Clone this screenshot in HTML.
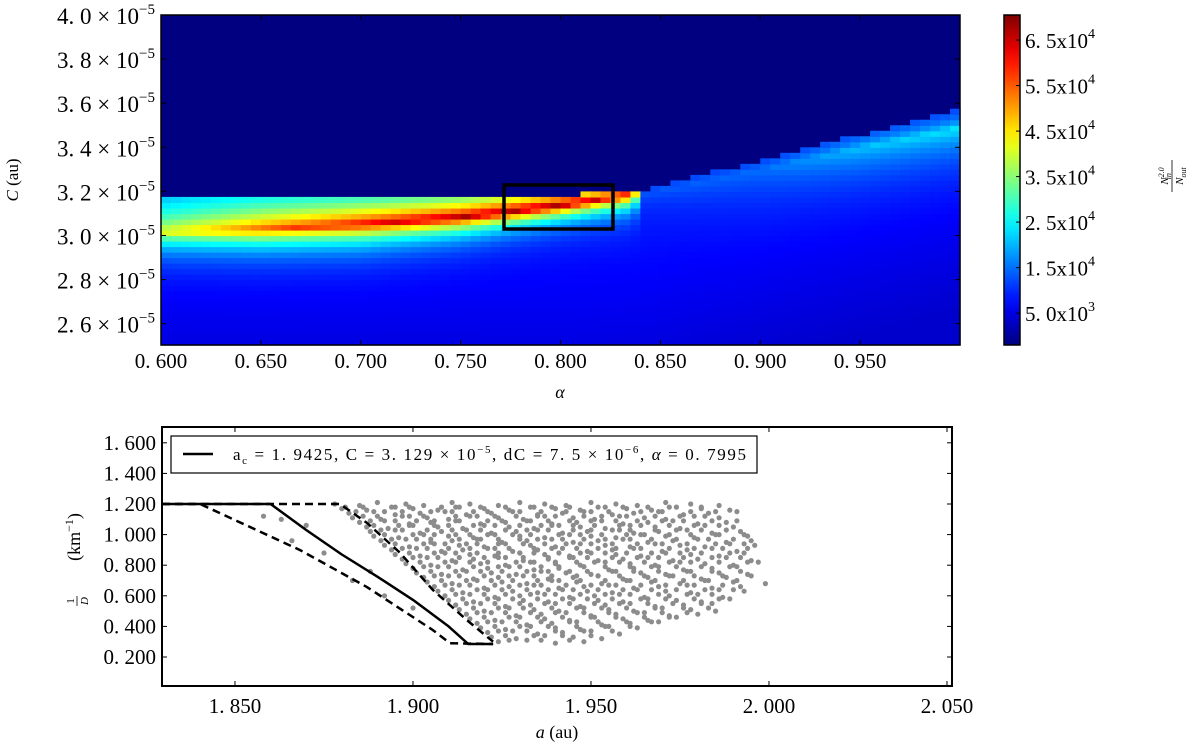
<!DOCTYPE html>
<html><head><meta charset="utf-8"><style>
html,body{margin:0;padding:0;background:#fff;}
svg{display:block;font-family:"Liberation Serif","DejaVu Serif",serif;}
</style></head><body>
<svg id="fig" width="1200" height="744" viewBox="0 0 1200 744" xmlns="http://www.w3.org/2000/svg">
<defs><linearGradient id="jetgrad" x1="0" y1="1" x2="0" y2="0"></linearGradient></defs>
<g id="heat"></g>
<g id="topaxes"></g>
<g id="cbar"></g>
<g id="bottom"></g>
</svg>
<script>
// ---------- heatmap data ----------
const sampleAlpha = [0.600,0.650,0.700,0.750,0.800,0.835,0.842,0.900,0.950,1.000];
const topC        = [3.184,3.184,3.184,3.184,3.184,3.200,3.205,3.342,3.456,3.569];
const ridgeC      = [3.016,3.030,3.052,3.084,3.138,3.186,3.190,3.300,3.400,3.490];
const peakVal     = [42000,55000,63000,68000,69000,62000,13000,15000,21000,24000];
const upWidth     = [0.15,0.14,0.12,0.10,0.08,0.06,0.05,0.05,0.05,0.05];
const downWidth   = [0.07,0.07,0.07,0.06,0.05,0.05,0.05,0.12,0.12,0.12];
const cbarTicks   = [65000,55000,45000,35000,25000,15000,5000];
const cbarLabels  = ["6. 5x10","5. 5x10","4. 5x10","3. 5x10","2. 5x10","1. 5x10","5. 0x10"];
const cbarExps    = ["4","4","4","4","4","4","3"];
const topXTicks   = [0.600,0.650,0.700,0.750,0.800,0.850,0.900,0.950];
const topXLabels  = ["0. 600","0. 650","0. 700","0. 750","0. 800","0. 850","0. 900","0. 950"];
const topYTicks   = [4.0,3.8,3.6,3.4,3.2,3.0,2.8,2.6];
const topYLabels  = ["4. 0","3. 8","3. 6","3. 4","3. 2","3. 0","2. 8","2. 6"];
// ---------- bottom plot data ----------
const botXTicks   = [1.850,1.900,1.950,2.000,2.050];
const botXLabels  = ["1. 850","1. 900","1. 950","2. 000","2. 050"];
const botYTicks   = [1.6,1.4,1.2,1.0,0.8,0.6,0.4,0.2];
const botYLabels  = ["1. 600","1. 400","1. 200","1. 000","0. 800","0. 600","0. 400","0. 200"];
const solidA  = [1.8295,1.8600,1.870,1.880,1.890,1.900,1.910,1.9155,1.9225];
const solidD  = [1.200,1.200,1.030,0.870,0.725,0.573,0.400,0.285,0.285];
const dashLoA = [1.8295,1.8402,1.8683,1.887,1.9056,1.9104,1.9225];
const dashLoD = [1.200,1.200,0.899,0.658,0.376,0.290,0.285];
const dashHiA = [1.8295,1.8795,1.8871,1.8964,1.9056,1.9152,1.9225];
const dashHiD = [1.200,1.200,1.076,0.880,0.638,0.440,0.300];
// scatter points batch 1: [a offset in thousandths from 1.8, 1/D in hundredths]
const scatterPts = [
[78,120],[85,119],[90,121],[98,120],[103,119],[111,121],[116,120],[124,119],[130,121],[137,120],[143,119],[150,121],[157,120],[163,119],[171,121],[178,120],[186,119],
[80,117],[87,116],[94,118],[100,117],[107,116],[113,118],[120,117],[127,116],[134,118],[140,117],[147,116],[154,118],[160,117],[167,116],[174,118],[181,117],[189,116],
[82,114],[89,115],[95,113],[102,114],[109,115],[115,113],[122,114],[128,115],[135,113],[142,114],[148,115],[156,113],[162,114],[169,115],[176,113],[183,114],[191,115],
[83,111],[91,110],[97,112],[104,111],[110,110],[118,112],[124,111],[131,110],[137,112],[145,111],[151,110],[158,112],[165,111],[171,110],[179,112],[186,111],
[85,108],[92,109],[99,107],[105,108],[112,109],[119,107],[126,108],[132,109],[139,107],[146,108],[153,109],[159,107],[166,108],[173,109],[180,107],[188,108],
[87,105],[93,104],[100,106],[107,105],[114,104],[120,106],[127,105],[134,104],[141,106],[147,105],[154,104],[161,106],[168,105],[175,104],[182,106],[190,105],
[88,102],[95,103],[102,101],[108,102],[115,103],[122,101],[129,102],[135,103],[142,101],[149,102],[156,103],[162,101],[169,102],[177,103],[184,101],[192,102],
[89,99],[96,98],[103,100],[110,99],[117,98],[123,100],[130,99],[137,98],[144,100],[150,99],[157,98],[164,100],[171,99],[179,98],[186,100],[194,99],
[91,96],[98,97],[105,95],[111,96],[118,97],[125,95],[132,96],[139,97],[145,95],[152,96],[159,97],[166,95],[173,96],[180,97],[188,95],[195,96],
[92,93],[99,92],[106,94],[113,93],[120,92],[126,94],[133,93],[140,92],[147,94],[154,93],[161,92],[168,94],[175,93],[182,92],[189,94],[196,93],
[94,90],[101,91],[108,89],[114,90],[121,91],[128,89],[135,90],[142,91],[149,89],[156,90],[162,91],[170,89],[177,90],[184,91],[191,89],
[95,87],[102,86],[109,88],[116,87],[123,86],[130,88],[137,87],[144,86],[150,88],[157,87],[164,86],[171,88],[178,87],[186,86],[193,88],
[97,84],[104,85],[111,83],[117,84],[124,85],[131,83],[138,84],[145,85],[152,83],[159,84],[166,85],[173,83],[180,84],[188,85],[195,83],
[98,81],[105,80],[112,82],[119,81],[126,80],[133,82],[140,81],[147,80],[154,82],[161,81],[168,80],[175,82],[182,81],[190,80],[197,82],
[100,78],[107,79],[114,77],[121,78],[127,79],[134,77],[141,78],[148,79],[155,77],[162,78],[169,79],[176,77],[184,78],[191,79],
[101,75],[108,74],[115,76],[122,75],[129,74],[136,76],[143,75],[150,74],[157,76],[164,75],[171,74],[178,76],[186,75],[194,74],
[103,72],[110,73],[117,71],[124,72],[131,73],[138,71],[145,72],[152,73],[159,71],[166,72],[173,73],[181,71],[188,72],[195,73],
[104,69],[111,68],[118,70],[125,69],[132,68],[139,70],[146,69],[153,68],[160,70],[167,69],[175,68],[182,70],[190,69],
[106,66],[113,67],[120,65],[127,66],[134,67],[141,65],[148,66],[155,67],[162,65],[169,66],[177,67],[184,65],[192,66],
[107,63],[114,62],[121,64],[128,63],[135,62],[142,64],[149,63],[156,62],[163,64],[171,63],[178,62],[186,64],[193,63],
[109,60],[116,61],[123,59],[130,60],[137,61],[144,59],[151,60],[158,61],[165,59],[172,60],[180,61],[187,59],
[110,57],[117,56],[124,58],[131,57],[138,56],[145,58],[152,57],[159,56],[166,58],[174,57],[181,56],[189,58],
[112,54],[119,55],[126,53],[133,54],[140,55],[147,53],[154,54],[161,55],[168,53],[176,54],[184,55],
[113,51],[120,50],[127,52],[134,51],[141,50],[148,52],[155,51],[162,50],[170,52],[178,51],[185,50],
[115,48],[122,49],[129,47],[136,48],[143,49],[150,47],[157,48],[165,49],[172,47],[180,48],
[116,45],[123,44],[130,46],[137,45],[144,44],[151,46],[159,45],[166,44],[174,46],
[118,42],[125,43],[132,41],[139,42],[146,43],[153,41],[161,42],[169,43],
[119,39],[126,38],[133,40],[140,39],[147,38],[155,40],[163,39],
[121,36],[128,37],[135,35],[142,36],[150,37],[158,35],
[122,33],[129,32],[137,34],[145,33],[153,32],
[124,30],[132,31],[140,29],[148,30],
[70,106],[63,110],[66,96],[58,112],[75,88],[88,76],[92,60],[100,52],[83,70],[199,68]
];
// scatter points batch 2: one 1/D value (hundredths) per row, with a offsets (thousandths from 1.8)
const scatterRowD = [118,115,112,109,106,103,100,97,94,91,88,85,82,79,76,73,70,67,64,61,58,55,52,49,46,43,40,37,34,31];
const scatterRowA = [
[81,86,95,99,108,112,119,126,133,139,144,152,159,166,172,181],
[84,92,97,105,111,117,121,130,136,143,150,155,164,170,178,185],
[86,90,99,103,112,116,123,129,135,140,148,153,160,168,175,182],
[88,95,101,106,113,121,125,133,138,144,150,157,163,170,176,184,191],
[89,96,99,106,110,117,123,130,136,139,145,151,158,164,172,179,186],
[91,97,104,111,115,119,126,132,138,145,150,158,161,168,174,181,188],
[92,100,106,112,116,121,128,133,141,147,153,160,165,172,178,185,193],
[94,101,105,113,119,124,130,135,142,148,154,161,167,174,183,190],
[95,103,109,115,118,124,131,137,143,150,156,163,170,177,185,193],
[97,104,110,116,123,127,134,139,146,152,157,164,172,179,187,194],
[99,106,112,118,124,130,134,141,147,154,160,167,175,181,189],
[100,107,113,120,126,131,138,144,149,156,163,169,176,184,192],
[102,109,116,121,129,134,140,146,151,158,165,172,178,186,194],
[103,110,117,124,130,136,141,148,154,161,167,174,181,189],
[105,112,119,125,132,138,144,149,156,162,169,177,184,192],
[106,113,120,127,134,139,146,152,158,165,172,179,187],
[108,115,122,128,135,141,147,154,161,168,176,183,191],
[109,116,123,130,136,143,150,157,164,171,179,187],
[111,118,125,132,138,145,152,159,167,174,182,190],
[112,120,126,133,140,147,154,161,169,177,184],
[114,121,128,135,142,149,156,164,171,179,186],
[115,123,130,137,144,151,158,166,173,181],
[117,124,131,139,146,153,160,168,176,183],
[118,126,133,140,148,155,163,170,177],
[120,127,135,142,150,157,165,172],
[121,129,136,144,152,160,167],
[123,130,138,146,154,161],
[124,132,140,148,156],
[126,134,142,150],
[127,136,144]
];

const NS="http://www.w3.org/2000/svg";
function mk(tag,attrs,parent){const e=document.createElementNS(NS,tag);for(const k in attrs)e.setAttribute(k,attrs[k]);parent.appendChild(e);return e;}

// ---------- top axes scales ----------
const TX0=161,TX1=960,TY0=15,TY1=345;
const ax=a=>TX0+(a-0.6)*(TX1-TX0)/0.4;
const cy=c=>TY0+(4.0-c)*220.5;
const VMIN=-2000,VMAX=70500;
function jet(v){let t=(v-VMIN)/(VMAX-VMIN);t=Math.max(0,Math.min(1,t));
 const cl=x=>Math.max(0,Math.min(1,x));
 const r=cl(1.5-Math.abs(4*t-3)),g=cl(1.5-Math.abs(4*t-2)),b=cl(1.5-Math.abs(4*t-1));
 return `rgb(${Math.round(r*255)},${Math.round(g*255)},${Math.round(b*255)})`;}
function interp(xs,ys,x){if(x<=xs[0])return ys[0];for(let i=1;i<xs.length;i++){if(x<=xs[i]){const f=(x-xs[i-1])/(xs[i]-xs[i-1]);return ys[i-1]+f*(ys[i]-ys[i-1]);}}return ys[ys.length-1];}

const heat=document.getElementById('heat');
mk('rect',{x:TX0,y:TY0,width:TX1-TX0,height:TY1-TY0,fill:jet(VMIN)},heat);
const dA=0.005,dC=0.025;
for(let a=0.6;a<1.0-1e-9;a+=dA){
 const am=a+dA/2;
 const T=interp(sampleAlpha,topC,am),R=interp(sampleAlpha,ridgeC,am),P=interp(sampleAlpha,peakVal,am);
 const wu=interp(sampleAlpha,upWidth,am),wd=interp(sampleAlpha,downWidth,am);
 for(let c=2.5;c<4.0;c+=dC){
  const cm=c+dC/2; if(cm>T)continue;
  const d=R-cm;
  const f=d<0?Math.exp(d/wu):Math.exp(-d/wd);
  const base=9500-6000*Math.min(1,(T-cm)/0.9);
  const v=base+(P-base)*f;
  const x0=ax(a),x1=ax(a+dA),y0=cy(c+dC),y1=cy(c);
  const yy0=Math.max(TY0,y0),yy1=Math.min(TY1,y1); if(yy1<=yy0)continue;
  const r=mk('rect',{x:x0.toFixed(2),y:yy0.toFixed(2),width:(x1-x0+0.6).toFixed(2),height:(yy1-yy0+0.6).toFixed(2),fill:jet(v)},heat);
  
  
 }
}
const tA=document.getElementById('topaxes');
const bx=mk('rect',{x:504,y:185,width:109,height:44,fill:'none',stroke:'#000','stroke-width':3.5},tA);


const frame=mk('rect',{x:TX0,y:TY0,width:TX1-TX0,height:TY1-TY0,fill:'none',stroke:'#000','stroke-width':1.5},tA);


topXTicks.forEach((t,i)=>{const x=ax(t);
 mk('line',{x1:x,x2:x,y1:TY1,y2:TY1-5,stroke:'#000'},tA);mk('line',{x1:x,x2:x,y1:TY0,y2:TY0+5,stroke:'#000'},tA);
 const tx=mk('text',{x:x,y:368,'text-anchor':'middle','font-size':21},tA);tx.textContent=topXLabels[i];
 
 });
topYTicks.forEach((t,i)=>{const y=cy(t);
 mk('line',{x1:TX0,x2:TX0+5,y1:y,y2:y,stroke:'#000'},tA);mk('line',{x1:TX1,x2:TX1-5,y1:y,y2:y,stroke:'#000'},tA);
 const tx=mk('text',{x:155,y:y+9,'font-size':23,'text-anchor':'end'},tA);
 
 
 const s1=mk('tspan',{},tx);s1.textContent=topYLabels[i]+" × 10";
 const s2=mk('tspan',{dy:-10,'font-size':15},tx);s2.textContent="−5";});
const yt=mk('text',{x:0,y:0,'font-size':17,'text-anchor':'middle',transform:'translate(18,180) rotate(-90)'},tA);


{const s=mk('tspan',{'font-style':'italic'},yt);s.textContent="C";const s2=mk('tspan',{},yt);s2.textContent=" (au)";}
const xt=mk('text',{x:560,y:398,'font-size':18,'font-style':'italic','text-anchor':'middle'},tA);xt.textContent="α";



// ---------- colorbar ----------
const cb=document.getElementById('cbar');
const grad=document.getElementById('jetgrad');
for(let k=0;k<=20;k++){const v=VMIN+(VMAX-VMIN)*k/20;mk('stop',{offset:(k/20),'stop-color':jet(v)},grad);}
const CBX=1004,CBW=16;
const cby=v=>TY1-(v-VMIN)/(VMAX-VMIN)*(TY1-TY0);
const cbr=mk('rect',{x:CBX,y:TY0,width:CBW,height:TY1-TY0,fill:'url(#jetgrad)',stroke:'#000','stroke-width':1.5},cb);


cbarTicks.forEach((t,i)=>{const y=cby(t);
 mk('line',{x1:CBX+CBW-4,x2:CBX+CBW,y1:y,y2:y,stroke:'#000'},cb);
 const tx=mk('text',{x:1025,y:y+8,'font-size':21},cb);
 
 
 const a=mk('tspan',{},tx);a.textContent=cbarLabels[i];
 const b=mk('tspan',{dy:-10,'font-size':14},tx);b.textContent=cbarExps[i];});
const cl=mk('g',{transform:'translate(1172,176) rotate(-90)'},cb);


{const n=mk('text',{x:0,y:-4,'font-size':11,'font-style':'italic','text-anchor':'middle'},cl);n.textContent="N";
 const s=mk('tspan',{'font-size':8,dy:-4},n);s.textContent="2.0";const s2=mk('tspan',{'font-size':8,dy:7,dx:-12},n);s2.textContent="in";
 mk('line',{x1:-16,x2:16,y1:0,y2:0,stroke:'#000','stroke-width':0.8},cl);
 const d=mk('text',{x:0,y:11,'font-size':11,'font-style':'italic','text-anchor':'middle'},cl);d.textContent="N";
 const ds=mk('tspan',{'font-size':8,dy:3},d);ds.textContent="out";}

// ---------- bottom plot ----------
const B=document.getElementById('bottom');
const BX0=162,BX1=952,BY0=427,BY1=686;
const bxs=a=>BX0+(a-1.8295)*(178/0.05);
const bys=v=>657-(v-0.2)*153;
mk('rect',{x:BX0,y:BY0,width:BX1-BX0,height:BY1-BY0,fill:'#fff'},B);
const sc=mk('g',{},B);


function dot(aOff,dH){const c=mk('circle',{cx:bxs(1.8+aOff/1000).toFixed(1),cy:bys(dH/100).toFixed(1),r:2.6,fill:'#8c8c8c'},sc);
 
 }
scatterPts.forEach(p=>dot(p[0],p[1]));
scatterRowD.forEach((d,i)=>scatterRowA[i].forEach(a=>dot(a,d)));
function poly(A,D){return A.map((a,i)=>bxs(a).toFixed(1)+','+bys(D[i]).toFixed(1)).join(' ');}
const ls=mk('polyline',{points:poly(solidA,solidD),fill:'none',stroke:'#000','stroke-width':2.5,'stroke-linejoin':'round'},B);


const l1=mk('polyline',{points:poly(dashLoA,dashLoD),fill:'none',stroke:'#000','stroke-width':2.5,'stroke-dasharray':'8,5'},B);


const l2=mk('polyline',{points:poly(dashHiA,dashHiD),fill:'none',stroke:'#000','stroke-width':2.5,'stroke-dasharray':'8,5'},B);


const bf=mk('rect',{x:BX0,y:BY0,width:BX1-BX0,height:BY1-BY0,fill:'none',stroke:'#000','stroke-width':2},B);


botXTicks.forEach((t,i)=>{const x=bxs(t);
 if(x<BX1){mk('line',{x1:x,x2:x,y1:BY1,y2:BY1-5,stroke:'#000'},B);mk('line',{x1:x,x2:x,y1:BY0,y2:BY0+5,stroke:'#000'},B);}
 const tx=mk('text',{x:x,y:713,'text-anchor':'middle','font-size':21},B);tx.textContent=botXLabels[i];
 
 });
botYTicks.forEach((t,i)=>{const y=bys(t);
 mk('line',{x1:BX0,x2:BX0+5,y1:y,y2:y,stroke:'#000'},B);mk('line',{x1:BX1,x2:BX1-5,y1:y,y2:y,stroke:'#000'},B);
 const tx=mk('text',{x:156,y:y+7,'text-anchor':'end','font-size':21},B);tx.textContent=botYLabels[i];
 
 });
// legend
const lg=mk('g',{},B);


mk('rect',{x:171,y:436,width:586,height:37,fill:'#fff',stroke:'#000','stroke-width':1.2},lg);
mk('line',{x1:183,x2:213,y1:454,y2:454,stroke:'#000','stroke-width':2.5},lg);
{const t=mk('text',{x:233,y:460,'font-size':17,textLength:513,lengthAdjust:'spacing'},lg);
 
 
 const s1=mk('tspan',{},t);s1.textContent="a";
 const s2=mk('tspan',{dy:4,'font-size':11},t);s2.textContent="c";
 const s3=mk('tspan',{dy:-4},t);s3.textContent=" = 1. 9425,  C = 3. 129 × 10";
 const s4=mk('tspan',{dy:-7,'font-size':11},t);s4.textContent="−5";
 const s5=mk('tspan',{dy:7},t);s5.textContent=",  dC = 7. 5 × 10";
 const s6=mk('tspan',{dy:-7,'font-size':11},t);s6.textContent="−6";
 const s7=mk('tspan',{dy:7},t);s7.textContent=",  ";
 const s8=mk('tspan',{'font-style':'italic'},t);s8.textContent="α";
 const s9=mk('tspan',{},t);s9.textContent="  =  0. 7995";}
// bottom axis titles
const byt=mk('g',{transform:'translate(80,557) rotate(-90)'},B);


{const t=mk('text',{x:20,y:0,'font-size':18,'text-anchor':'middle'},byt);
 const a=mk('tspan',{},t);a.textContent="(km";const b=mk('tspan',{dy:-7,'font-size':12},t);b.textContent="−1";const c=mk('tspan',{dy:7},t);c.textContent=")";
 const f1=mk('text',{x:-44,y:-6,'font-size':11,'text-anchor':'middle'},byt);f1.textContent="1";
 mk('line',{x1:-49,x2:-39,y1:-3,y2:-3,stroke:'#000','stroke-width':0.8},byt);
 const f2=mk('text',{x:-44,y:8,'font-size':11,'font-style':'italic','text-anchor':'middle'},byt);f2.textContent="D";}
const bxt=mk('text',{x:557,y:738,'font-size':18,'text-anchor':'middle'},B);


{const a=mk('tspan',{'font-style':'italic'},bxt);a.textContent="a";const b=mk('tspan',{},bxt);b.textContent=" (au)";}
</script>
</body></html>
